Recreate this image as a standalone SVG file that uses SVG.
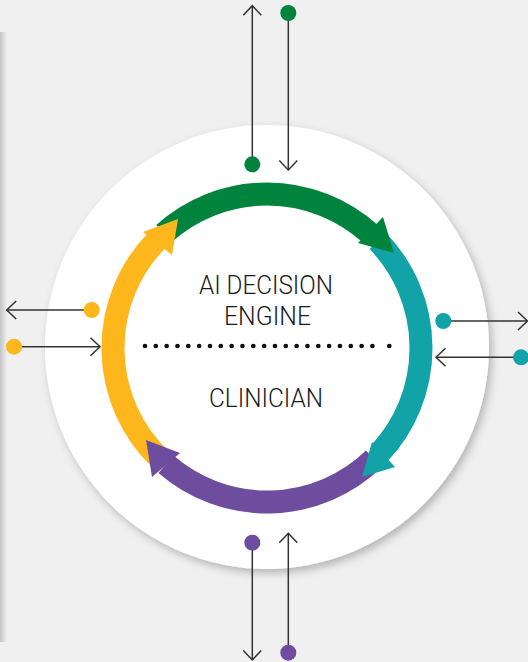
<svg xmlns="http://www.w3.org/2000/svg" width="528" height="662" viewBox="0 0 528 662">
  <style>
    .lbl { font-family: Roboto, "Liberation Sans", sans-serif; font-size: 26px; font-weight: 300; fill: #1a1a1a; text-anchor: middle; }
    .conn { stroke: #333333; stroke-width: 1.5; fill: none; }
    .shaft { fill: none; stroke-width: 23; }
  </style>
  <defs>
    <filter id="sh" x="-20%" y="-20%" width="140%" height="140%">
      <feDropShadow dx="3" dy="4" stdDeviation="4" flood-color="#000" flood-opacity="0.25"/>
    </filter>
    <linearGradient id="edge" x1="0" y1="0" x2="1" y2="0">
      <stop offset="0" stop-color="#c4c4c4"/>
      <stop offset="1" stop-color="#f0f0f0"/>
    </linearGradient>
    <marker id="chev" viewBox="-11 -11 13 22" markerWidth="13" markerHeight="22" refX="0" refY="0" orient="auto" markerUnits="userSpaceOnUse">
      <path d="M-9.5,-9 L0,0 L-9.5,9" fill="none" stroke="#333333" stroke-width="1.5"/>
    </marker>
  </defs>

  <rect width="528" height="662" fill="#f0f0f0"/>
  <rect x="0" y="32" width="7" height="610" fill="url(#edge)"/>

  <g id="disc">
    <circle cx="267" cy="347" r="222" fill="#ffffff" filter="url(#sh)"/>
  </g>

  <g id="cycle">
    <path class="shaft" stroke="#00843D" d="M163.96,233.56 A154,154 0 0 1 370.04,233.56"/>
    <path class="shaft" stroke="#12A3A8" d="M377.8,241.0 A154,154 0 0 1 379.6,453.0"/>
    <path class="shaft" stroke="#6F4D9E" d="M374.0,458.8 A154,154 0 0 1 166.0,464.2"/>
    <path class="shaft" stroke="#FDB71D" d="M160.0,458.8 A154,154 0 0 1 156.2,241.0"/>
    <polygon fill="#00843D" points="383,217 394,253 358,243"/>
    <polygon fill="#12A3A8" points="395,467 362,477 372,442"/>
    <polygon fill="#6F4D9E" points="152,477 146,440 180,453"/>
    <polygon fill="#FDB71D" points="143,232 178,219 172,255"/>
  </g>

  <g id="ai-engine">
    <text class="lbl" x="266" y="294" textLength="134" lengthAdjust="spacingAndGlyphs">AI DECISION</text>
    <text class="lbl" x="267.5" y="325" textLength="87" lengthAdjust="spacingAndGlyphs">ENGINE</text>
  </g>
  <g id="divider">
    <line x1="145" y1="346" x2="374" y2="346" stroke="#111" stroke-width="4.7" stroke-linecap="round" stroke-dasharray="0 10.83"/>
    <circle cx="389.3" cy="346" r="2.35" fill="#111"/>
  </g>
  <g id="clinician">
    <text class="lbl" x="266" y="407" textLength="114" lengthAdjust="spacingAndGlyphs">CLINICIAN</text>
  </g>

  <g id="connectors">
    <line class="conn" x1="252.3" y1="164" x2="252.3" y2="5.7" marker-end="url(#chev)"/>
    <line class="conn" x1="288.3" y1="13" x2="288.3" y2="170" marker-end="url(#chev)"/>
    <line class="conn" x1="252.3" y1="543" x2="252.3" y2="660" marker-end="url(#chev)"/>
    <line class="conn" x1="288.3" y1="653" x2="288.3" y2="533.3" marker-end="url(#chev)"/>
    <line class="conn" x1="91.7" y1="310" x2="6.7" y2="310" marker-end="url(#chev)"/>
    <line class="conn" x1="14" y1="346.7" x2="100" y2="346.7" marker-end="url(#chev)"/>
    <line class="conn" x1="443.3" y1="321" x2="527.5" y2="321" marker-end="url(#chev)"/>
    <line class="conn" x1="521" y1="357.3" x2="436" y2="357.3" marker-end="url(#chev)"/>
  </g>

  <g id="dots">
    <circle cx="252.3" cy="164.3" r="8" fill="#00843D"/>
    <circle cx="288.3" cy="13" r="8" fill="#00843D"/>
    <circle cx="252.3" cy="542.7" r="8" fill="#6F4D9E"/>
    <circle cx="288.3" cy="652.7" r="8" fill="#6F4D9E"/>
    <circle cx="91.7" cy="310" r="8" fill="#FDB71D"/>
    <circle cx="14" cy="346.7" r="8" fill="#FDB71D"/>
    <circle cx="443.3" cy="321" r="8" fill="#12A3A8"/>
    <circle cx="521" cy="357.3" r="8" fill="#12A3A8"/>
  </g>
</svg>
